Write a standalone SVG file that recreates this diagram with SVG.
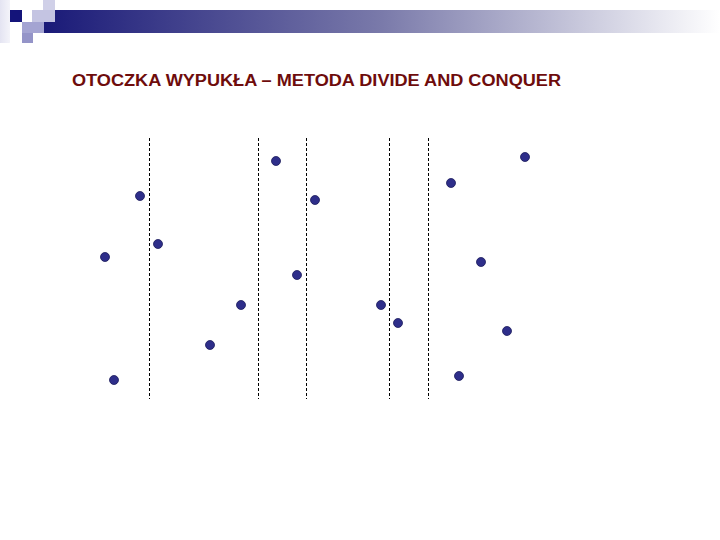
<svg xmlns="http://www.w3.org/2000/svg" width="720" height="540" viewBox="0 0 720 540">
<defs>
<linearGradient id="bar" x1="0" y1="0" x2="1" y2="0">
<stop offset="0" stop-color="#1a1a78"/>
<stop offset="0.5" stop-color="#7a7aaa"/>
<stop offset="1" stop-color="#ffffff"/>
</linearGradient>
<linearGradient id="lft" x1="0" y1="0" x2="1" y2="0">
<stop offset="0" stop-color="#e4e4f2"/>
<stop offset="1" stop-color="#f4f4fa"/>
</linearGradient>
</defs>
<style>
.div{stroke:#000;stroke-width:1;stroke-dasharray:3,2;fill:none}
.pt{fill:#2e2e8a;stroke:#1a1a5a;stroke-width:0.8}
.title{font-family:"Liberation Sans",Arial,sans-serif;font-weight:bold;font-size:16px;fill:#6e0c0c}
</style>
<rect width="720" height="540" fill="#ffffff"/>
<g id="header">
<rect x="0" y="0" width="10" height="43" fill="url(#lft)"/>
<rect x="44" y="10" width="676" height="23" fill="url(#bar)"/>
<rect x="43" y="0" width="12" height="10" fill="#d0d0e8"/>
<rect x="32" y="10" width="23" height="12" fill="#c4c4e2"/>
<rect x="10" y="10" width="12" height="12" fill="#14147a"/>
<rect x="22" y="22" width="22" height="11" fill="#a4a4d2"/>
<rect x="22" y="33" width="11" height="10" fill="#9494c8"/>
</g>
<text id="title" class="title" x="72" y="86" textLength="489" lengthAdjust="spacingAndGlyphs">OTOCZKA WYPUKŁA – METODA DIVIDE AND CONQUER</text>
<g id="dividers">
<line class="div" x1="149.5" y1="138" x2="149.5" y2="399"/>
<line class="div" x1="258.5" y1="138" x2="258.5" y2="399"/>
<line class="div" x1="306.5" y1="138" x2="306.5" y2="399"/>
<line class="div" x1="389.5" y1="138" x2="389.5" y2="399"/>
<line class="div" x1="428.5" y1="138" x2="428.5" y2="399"/>
</g>
<g id="points">
<circle class="pt" cx="140" cy="196" r="4.5"/>
<circle class="pt" cx="105" cy="257" r="4.5"/>
<circle class="pt" cx="158" cy="244" r="4.5"/>
<circle class="pt" cx="114" cy="380" r="4.5"/>
<circle class="pt" cx="210" cy="345" r="4.5"/>
<circle class="pt" cx="241" cy="305" r="4.5"/>
<circle class="pt" cx="276" cy="161" r="4.5"/>
<circle class="pt" cx="315" cy="200" r="4.5"/>
<circle class="pt" cx="297" cy="275" r="4.5"/>
<circle class="pt" cx="381" cy="305" r="4.5"/>
<circle class="pt" cx="398" cy="323" r="4.5"/>
<circle class="pt" cx="451" cy="183" r="4.5"/>
<circle class="pt" cx="525" cy="157" r="4.5"/>
<circle class="pt" cx="481" cy="262" r="4.5"/>
<circle class="pt" cx="507" cy="331" r="4.5"/>
<circle class="pt" cx="459" cy="376" r="4.5"/>
</g>
</svg>
